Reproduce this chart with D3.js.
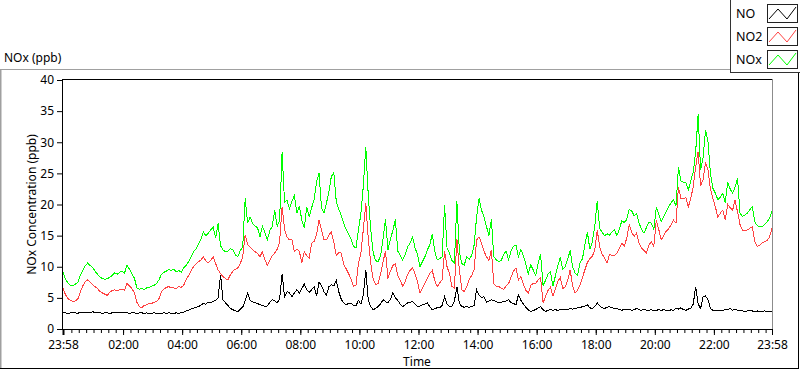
<!DOCTYPE html>
<html>
<head>
<meta charset="utf-8">
<script src="https://cdn.jsdelivr.net/npm/d3@7"></script>
<style>
  body { margin: 0; background: #fff; }
  svg { display: block; font-family: "Segoe UI", "Noto Sans", sans-serif; }
</style>
</head>
<body>
<div class="chart"></div>
<script>
// readings every 5 minutes, starting at 23:58 of the previous day
var startTime = new Date(2020, 0, 1, 23, 58);
var stepMinutes = 5;

var noxValues = [
  9.2, 8.0, 7.4, 7.0, 6.9, 7.2, 7.5, 8.6, 9.4, 10.1,
  10.6, 10.2, 9.9, 9.3, 8.8, 8.4, 8.1, 8.0, 8.1, 8.3,
  8.6, 9.0, 8.8, 9.1, 9.3, 9.0, 10.3, 9.6, 8.8, 8.2,
  6.6, 6.4, 6.5, 6.3, 6.6, 6.7, 6.9, 7.0, 7.3, 7.9,
  8.8, 9.1, 9.3, 9.6, 9.4, 9.6, 9.2, 9.4, 9.1, 9.8,
  10.2, 10.8, 11.5, 12.4, 12.8, 13.6, 14.4, 15.6, 15.0, 15.4,
  15.9, 16.4, 14.6, 17.0, 13.4, 12.7, 12.4, 12.5, 12.9, 12.7,
  11.9, 11.6, 12.6, 13.2, 21.0, 17.0, 18.0, 17.0, 16.5, 16.3,
  14.8, 16.5, 15.5, 14.3, 15.8, 16.5, 19.1, 16.5, 17.5, 28.5,
  20.3, 20.7, 19.3, 20.5, 21.5, 18.6, 19.8, 17.5, 16.2, 19.6,
  18.0, 19.5, 20.7, 23.7, 25.0, 19.5, 18.6, 20.2, 22.0, 24.5,
  25.1, 20.5, 19.2, 18.3, 17.0, 16.0, 15.2, 14.4, 13.3, 13.0,
  15.9, 18.5, 23.0, 29.3, 21.5, 16.0, 12.2, 11.0, 10.8, 11.8,
  14.5, 17.6, 12.7, 14.5, 15.8, 17.6, 12.5, 11.8, 11.1, 12.0,
  13.2, 13.8, 14.8, 13.0, 12.0, 10.0, 10.8, 11.6, 12.7, 13.5,
  15.3, 12.5, 11.1, 11.3, 11.6, 19.9, 13.0, 12.2, 11.0, 10.6,
  20.5, 12.5, 10.5, 10.3, 11.6, 11.2, 11.8, 13.5, 18.0, 21.0,
  19.1, 18.0, 16.5, 15.0, 17.6, 11.6, 11.1, 10.8, 11.0, 12.0,
  12.5, 11.1, 12.5, 13.3, 13.5, 11.6, 12.8, 11.8, 10.4, 8.9,
  10.3, 9.5, 8.6, 10.5, 12.0, 7.0, 7.8, 8.8, 9.2, 6.9,
  8.5, 10.2, 11.5, 9.6, 10.0, 11.2, 12.6, 10.0, 9.0, 8.6,
  10.6, 11.3, 13.5, 15.6, 12.8, 14.0, 16.5, 20.5, 16.2, 15.5,
  15.0, 15.3, 15.1, 15.6, 15.9, 15.0, 16.0, 17.4, 17.1, 17.6,
  19.2, 19.0, 18.2, 18.6, 17.0, 16.0, 15.4, 16.3, 17.2, 17.0,
  16.0, 19.5, 18.5, 17.3, 18.1, 18.8, 19.6, 20.3, 20.7, 19.8,
  26.0, 23.8, 23.6, 23.6, 22.3, 23.8, 25.2, 28.5, 34.5, 25.5,
  27.5, 32.0, 30.0, 25.0, 22.6, 21.8, 20.8, 21.2, 21.8, 20.3,
  23.6, 22.5, 21.8, 22.8, 24.2, 18.6, 18.1, 18.3, 18.6, 19.2,
  19.6, 17.2, 16.6, 16.4, 16.4, 16.8, 17.2, 17.8, 19.0
];

var no2Values = [
  6.6, 5.5, 4.9, 4.6, 4.4, 4.5, 4.8, 5.9, 6.9, 7.6,
  7.9, 7.5, 7.1, 6.8, 6.5, 6.0, 5.8, 5.6, 5.4, 5.9,
  6.2, 6.3, 6.1, 6.3, 6.4, 6.2, 7.3, 6.9, 6.5, 5.8,
  4.3, 3.6, 3.4, 3.8, 3.9, 4.1, 4.1, 4.3, 4.4, 4.9,
  6.0, 6.4, 6.7, 6.8, 6.6, 6.6, 6.5, 6.8, 6.7, 7.0,
  7.9, 8.6, 9.3, 10.0, 10.4, 10.8, 11.1, 11.6, 11.0, 10.6,
  11.0, 11.6, 10.5, 9.5, 8.9, 8.4, 8.1, 7.9, 8.7, 9.3,
  9.6, 9.8, 10.5, 11.6, 15.1, 13.5, 13.2, 12.8, 12.4, 12.2,
  11.6, 12.4, 11.2, 10.2, 11.0, 11.8, 12.2, 12.8, 14.0, 19.6,
  16.0, 14.8, 14.3, 14.3, 12.4, 12.8, 12.5, 10.6, 12.4, 11.8,
  11.4, 13.8, 14.1, 15.2, 17.5, 16.0, 14.3, 14.3, 15.1, 15.6,
  14.0, 11.8, 12.3, 12.2, 10.4, 9.7, 8.9, 8.0, 6.9, 7.0,
  10.6, 12.2, 16.0, 20.2, 14.5, 10.5, 8.0, 7.1, 7.3, 8.8,
  10.8, 12.5, 8.1, 9.3, 10.2, 10.5, 8.6, 7.8, 6.9, 7.6,
  8.8, 9.4, 9.9, 8.8, 7.6, 5.8, 6.6, 7.4, 8.1, 8.9,
  9.4, 7.8, 6.8, 7.4, 7.9, 12.5, 10.0, 8.9, 6.8, 6.6,
  14.5, 9.5, 6.3, 6.0, 6.8, 8.0, 8.6, 9.5, 14.3, 14.8,
  13.8, 12.5, 11.6, 11.0, 12.7, 7.3, 6.8, 6.8, 6.6, 6.4,
  6.9, 7.3, 8.3, 9.3, 9.8, 7.9, 8.4, 7.2, 6.2, 5.8,
  7.0, 7.3, 7.3, 7.9, 8.2, 4.2, 5.2, 6.2, 6.7, 5.3,
  6.4, 7.6, 8.3, 6.5, 6.8, 7.8, 9.5, 7.0, 5.8, 6.2,
  7.0, 8.3, 9.5, 10.7, 11.3, 11.7, 12.6, 15.9, 13.2, 12.0,
  11.4, 10.6, 12.0, 11.8, 11.8, 12.2, 12.9, 13.8, 13.3, 14.6,
  16.8, 15.5, 14.9, 15.4, 13.8, 13.0, 12.6, 12.2, 13.5, 14.0,
  13.3, 17.5, 16.0, 14.3, 15.0, 15.7, 16.1, 16.7, 17.5, 17.0,
  22.8, 21.0, 20.9, 21.1, 19.6, 21.0, 22.8, 26.1, 28.5, 23.0,
  24.0, 26.8, 25.5, 22.5, 21.0, 19.6, 18.0, 18.6, 19.1, 17.5,
  20.0, 19.5, 19.1, 20.7, 18.8, 16.8, 15.9, 15.8, 15.9, 16.2,
  16.4, 14.0, 13.3, 13.4, 13.8, 14.0, 14.2, 14.8, 16.2
];

var noValues = [
  2.6, 2.6, 2.5, 2.6, 2.6, 2.6, 2.5, 2.7, 2.6, 2.6,
  2.7, 2.6, 2.8, 2.6, 2.6, 2.6, 2.5, 2.6, 2.6, 2.5,
  2.6, 2.6, 2.7, 2.6, 2.6, 2.6, 2.6, 2.5, 2.6, 2.6,
  2.5, 2.6, 2.6, 2.5, 2.6, 2.4, 2.5, 2.6, 2.5, 2.4,
  2.5, 2.6, 2.5, 2.6, 2.5, 2.5, 2.6, 2.5, 2.6, 2.7,
  2.9, 3.0, 3.2, 3.3, 3.5, 3.6, 3.8, 4.1, 4.0, 4.3,
  4.3, 4.4, 4.6, 5.0, 8.7, 4.7, 4.2, 3.8, 3.3, 3.1,
  2.9, 2.8, 3.2, 3.5, 4.5, 5.8, 4.6, 4.4, 4.2, 4.1,
  3.9, 3.8, 3.6, 3.7, 4.3, 4.7, 4.5, 4.2, 4.8, 8.9,
  5.2, 6.0, 5.8, 5.2, 5.8, 6.3, 5.8, 6.5, 7.2, 6.3,
  5.9, 6.3, 6.8, 5.3, 7.5, 7.0, 6.0, 5.4, 6.8, 7.1,
  6.9, 7.8, 6.0, 4.8, 4.2, 3.9, 4.1, 4.1, 3.8, 3.7,
  4.6, 4.0, 5.5, 9.5, 4.7, 3.6, 3.1, 3.3, 3.6, 4.0,
  4.7, 4.4, 4.2, 4.8, 5.8, 5.0, 4.6, 4.0, 3.6, 3.9,
  4.2, 4.3, 4.4, 4.0, 3.6, 3.7, 3.9, 4.0, 4.2, 3.6,
  3.1, 3.3, 3.4, 3.4, 3.8, 5.2, 4.0, 3.6, 3.7, 4.5,
  6.8, 4.2, 3.6, 3.5, 3.6, 3.5, 3.6, 3.8, 6.3, 5.5,
  5.0, 5.2, 4.3, 4.5, 4.7, 4.6, 4.4, 4.2, 4.3, 4.4,
  4.5, 4.7, 4.2, 4.1, 3.9, 5.5, 4.6, 4.0, 3.5, 3.1,
  2.8, 3.0, 3.1, 3.4, 3.6, 3.1, 2.8, 3.0, 3.1, 3.0,
  3.1, 3.0, 3.1, 3.1, 3.2, 3.1, 3.3, 3.2, 3.3, 3.4,
  3.4, 3.6, 3.7, 3.9, 3.4, 3.3, 3.6, 4.2, 3.7, 3.4,
  3.3, 3.5, 3.6, 3.4, 3.3, 3.3, 3.1, 3.0, 3.2, 3.1,
  3.2, 3.0, 3.1, 3.3, 3.1, 3.0, 3.2, 3.0, 3.0, 3.1,
  2.9, 3.0, 3.1, 3.0, 3.1, 3.0, 2.9, 3.1, 3.0, 3.3,
  3.2, 3.4, 3.1, 3.0, 3.2, 3.3, 4.0, 6.8, 4.0, 3.3,
  5.2, 5.3, 4.7, 3.3, 3.0, 2.9, 3.0, 2.9, 3.0, 3.1,
  3.1, 3.3, 3.0, 3.2, 3.0, 2.9, 2.9, 2.8, 2.9, 3.0,
  2.9, 2.8, 2.9, 2.8, 2.8, 2.9, 2.8, 2.8, 2.9
];

var seriesNames = ["NO", "NO2", "NOx"];
var seriesColors = ["#000000", "#ff4242", "#00ff00"];
var xTickLabels = ["23:58", "02:00", "04:00", "06:00", "08:00", "10:00", "12:00",
                   "14:00", "16:00", "18:00", "20:00", "22:00", "23:58"];
var yTickValues = [0, 5, 10, 15, 20, 25, 30, 35, 40];

var svgWidth = 800;
var svgHeight = 369;

var svg = d3.select(".chart")
  .append("svg")
  .attr("width", svgWidth)
  .attr("height", svgHeight);

var endTime = d3.timeMinute.offset(startTime, stepMinutes * (noxValues.length - 1));
var times = noxValues.map(function(d, i) {
  return d3.timeMinute.offset(startTime, i * stepMinutes);
});

var x = d3.scaleTime().domain([startTime, endTime]).range([63, 772]);
var y = d3.scaleLinear().domain([0, 40]).range([329, 80]);

// outer frame
svg.append("line").attr("x1", 0.5).attr("x2", 0.5).attr("y1", 69).attr("y2", 369)
  .attr("stroke", "#a0a0a0").attr("stroke-width", 2);
svg.append("line").attr("x1", 0).attr("x2", 798).attr("y1", 69.5).attr("y2", 69.5)
  .attr("stroke", "#a0a0a0");
svg.append("line").attr("x1", 798.5).attr("x2", 798.5).attr("y1", 69).attr("y2", 369)
  .attr("stroke", "#000");
svg.append("line").attr("x1", 0).attr("x2", 799).attr("y1", 368.5).attr("y2", 368.5)
  .attr("stroke", "#000");

svg.append("text")
  .attr("x", 4).attr("y", 62)
  .attr("font-size", 12)
  .text("NOx (ppb)");

// plot frame
svg.append("line").attr("x1", 62).attr("x2", 772).attr("y1", 79.5).attr("y2", 79.5).attr("stroke", "#000");
svg.append("line").attr("x1", 772.5).attr("x2", 772.5).attr("y1", 79).attr("y2", 330).attr("stroke", "#8c8c8c");

// tick positions from the labels
var nextDay = d3.timeDay.offset(d3.timeDay.floor(startTime), 1);
var xTickTimes = xTickLabels.map(function(label, i) {
  if (i === 0) return startTime;
  if (i === xTickLabels.length - 1) return endTime;
  var p = label.split(":");
  return new Date(nextDay.getFullYear(), nextDay.getMonth(), nextDay.getDate(), +p[0], +p[1]);
});

var minorTicks = d3.timeMinute.every(15).range(d3.timeMinute.offset(startTime, 5), endTime);

svg.append("g")
  .attr("transform", "translate(0,329)")
  .call(d3.axisBottom(x).tickValues(minorTicks).tickSize(4).tickFormat(""))
  .call(function(g) { g.select(".domain").remove(); });

var xAxis = svg.append("g")
  .attr("transform", "translate(0,329)")
  .call(d3.axisBottom(x)
    .tickValues(xTickTimes)
    .tickSize(6)
    .tickSizeOuter(0)
    .tickPadding(5)
    .tickFormat(function(d, i) { return xTickLabels[i]; }));
xAxis.select(".domain").attr("d", "M62,0.5H772");
xAxis.selectAll("text").attr("font-size", 12).attr("font-family", "Segoe UI, Noto Sans, sans-serif");
xAxis.selectAll(".tick line").filter(function(d, i) { return i === 0; }).attr("stroke-width", 2);

var yAxis = svg.append("g")
  .attr("transform", "translate(62,0)")
  .call(d3.axisLeft(y).tickValues(yTickValues).tickSize(5).tickSizeOuter(0).tickPadding(3));
yAxis.select(".domain").attr("d", "M0.5,79V329");
yAxis.selectAll("text").attr("font-size", 12).attr("font-family", "Segoe UI, Noto Sans, sans-serif");

svg.append("text")
  .attr("transform", "translate(36,204.5) rotate(-90)")
  .attr("text-anchor", "middle")
  .attr("font-size", 12)
  .text("NOx Concentration (ppb)");

svg.append("text")
  .attr("x", 417).attr("y", 366)
  .attr("text-anchor", "middle")
  .attr("font-size", 12)
  .text("Time");

// series lines, NOx first so NO ends on top
var line = d3.line()
  .x(function(d, i) { return x(times[i]); })
  .y(function(d) { return y(d); });

var seriesValues = [noValues, no2Values, noxValues];
var plot = svg.append("g");
[2, 1, 0].forEach(function(k) {
  plot.append("path")
    .attr("d", line(seriesValues[k]))
    .attr("fill", "none")
    .attr("stroke", seriesColors[k])
    .attr("stroke-width", 1)
    .attr("shape-rendering", "crispEdges");
});

// legend
var legend = svg.append("g");
legend.append("rect")
  .attr("x", 730.5).attr("y", -1)
  .attr("width", 72).attr("height", 73.5)
  .attr("fill", "#fff").attr("stroke", "#333");

seriesNames.forEach(function(name, i) {
  var top = 4 + i * 23;
  legend.append("text")
    .attr("x", 736).attr("y", top + 14)
    .attr("font-size", 12.5)
    .text(name);
  legend.append("rect")
    .attr("x", 767.5).attr("y", top + 0.5)
    .attr("width", 30).attr("height", 18)
    .attr("fill", "#fff").attr("stroke", "#222");
  legend.append("path")
    .attr("d", "M" + 769 + "," + (top + 15) + "L" + 778 + "," + (top + 5) +
               "L" + 787 + "," + (top + 15) + "L" + 796 + "," + (top + 3))
    .attr("fill", "none")
    .attr("stroke", seriesColors[i]);
});
</script>
</body>
</html>
